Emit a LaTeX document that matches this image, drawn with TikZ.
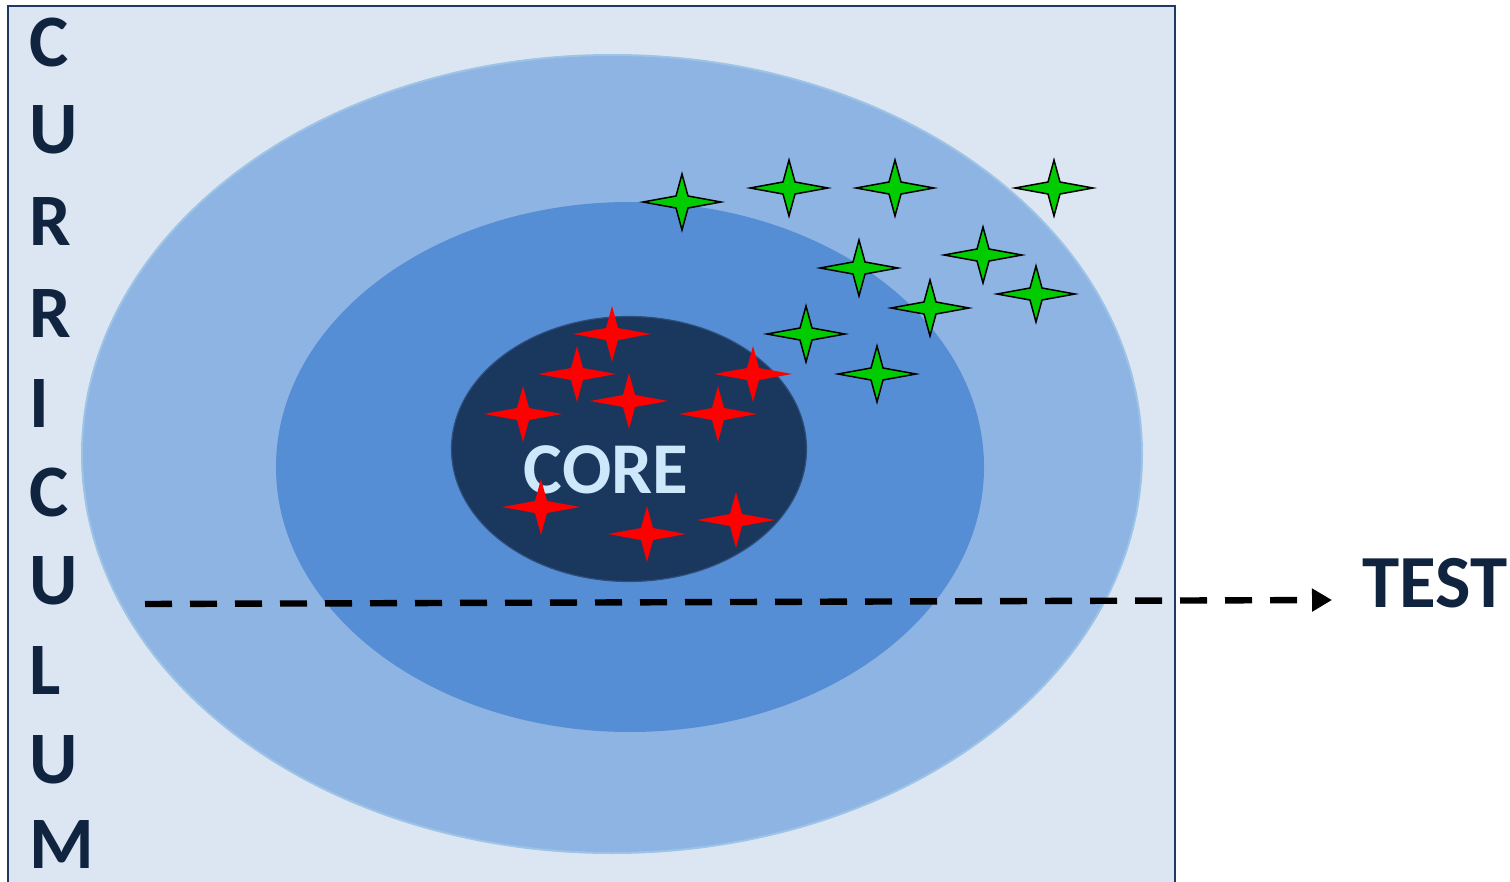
\documentclass[tikz,border=0pt]{standalone}
\usepackage{fontspec}
\setmainfont{Carlito}
\usetikzlibrary{shapes.geometric,arrows.meta}
\definecolor{bgpale}{HTML}{DCE6F2}
\definecolor{frameblue}{HTML}{1F3864}
\definecolor{outerblue}{HTML}{8EB4E3}
\definecolor{outerline}{HTML}{9DC3E6}
\definecolor{midblue}{HTML}{558ED5}
\definecolor{coreblue}{HTML}{1A375E}
\definecolor{coreline}{HTML}{2E4F7A}
\definecolor{coretext}{HTML}{CCE8FA}
\definecolor{navytext}{HTML}{10243F}
\definecolor{stargreen}{HTML}{00CC00}
\tikzset{
  letter/.style={anchor=base west,inner sep=0pt,text depth=0pt,font=\fontsize{37}{37}\selectfont\bfseries,text=navytext},
  ring/.style={ellipse,inner sep=0pt},
  spark/.pic={\path[pic actions] (39,0) -- (6,-6) -- (0,-28) -- (-6,-6) -- (-39,0) -- (-6,6) -- (0,28) -- (6,6) -- cycle;},
  redspark/.style={fill=red},
  greenspark/.style={fill=stargreen,draw=black,line width=0.75pt,line join=miter},
}
\begin{document}
\begin{tikzpicture}[x=0.5pt,y=-0.5pt]
\useasboundingbox (0,0) rectangle (1510,882);
\clip (0,0) rectangle (1510,882);
\fill[white] (0,0) rectangle (1510,882);
\draw[fill=bgpale,draw=frameblue,line width=0.8pt] (8,6) rectangle (1175,900);
% rings
\node[ring,fill=outerblue,draw=outerline,line width=1pt,minimum width=530pt,minimum height=399pt] (outer) at (612,454) {};
\node[ring,fill=midblue,minimum width=354pt,minimum height=265pt] (middle) at (630,467) {};
\node[ring,fill=coreblue,draw=coreline,line width=0.6pt,minimum width=177.5pt,minimum height=132.5pt] (inner) at (629,449) {};
% green stars
\foreach \x/\y in {682/202,789/188,895/188,1054/188,983/255,859/268,1036/294,930/308,806/334,877/374}
  \pic[greenspark] at (\x,\y) {spark};
% red stars
\foreach \x/\y in {612/334,577/374,629/401,523/414,753/374,718/414}
  \pic[redspark] at (\x,\y) {spark};
\node[inner sep=0pt,font=\fontsize{36.5}{36.5}\selectfont\bfseries,text=coretext] (core) at (606,470) {CORE};
\foreach \x/\y in {541/507,647/534,736/520}
  \pic[redspark] at (\x,\y) {spark};
% curriculum letters
\node[letter] (l1) at (29,67) {C};
\node[letter] (l2) at (29,154) {U};
\node[letter] (l3) at (29,246) {R};
\node[letter] (l4) at (29,337) {R};
\node[letter] (l5) at (29,427) {I};
\node[letter] (l6) at (29,516) {C};
\node[letter] (l7) at (29,604) {U};
\node[letter] (l8) at (29,694) {L};
\node[letter] (l9) at (29,783) {U};
\node[letter] (l10) at (29,868) {M};
% test
\node[anchor=west,inner sep=0pt,font=\fontsize{37.5}{37.5}\selectfont\bfseries,text=navytext] (test) at (1362,583) {TEST};
\coordinate (a0) at (145,604);
\coordinate (a1) at (1332,600);
\draw[line width=3.2pt,dash pattern=on 13.5pt off 9pt,-{Triangle[length=10pt,width=11pt]}] (a0) -- (a1);
\end{tikzpicture}
\end{document}
